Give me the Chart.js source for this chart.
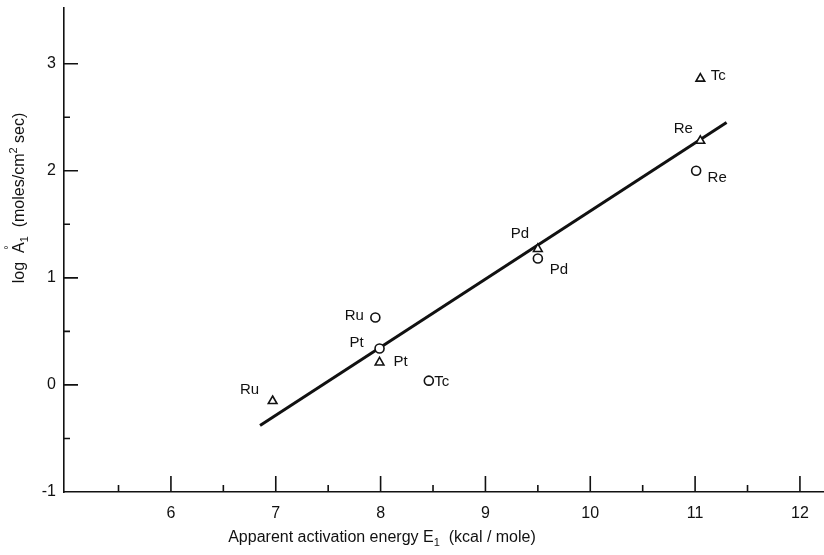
<!DOCTYPE html>
<html>
<head>
<meta charset="utf-8">
<script src="https://cdn.jsdelivr.net/npm/chart.js@4.4.0/dist/chart.umd.min.js"></script>
<style>
  html, body { margin:0; padding:0; background:#fff; }
  canvas { display:block; }
</style>
</head>
<body>
<canvas id="chart" width="824" height="555"></canvas>
<script>
// circles (o) and triangles (Δ), log A vs E
const circleMetals = ['Ru', 'Pt', 'Tc', 'Pd', 'Re'];
const circleE      = [7.95, 7.99, 8.46, 9.5, 11.01];
const circleLogA   = [0.63, 0.34, 0.04, 1.18, 2.0];

const triMetals = ['Ru', 'Pt', 'Pd', 'Re', 'Tc'];
const triE      = [6.97, 7.99, 9.5, 11.05, 11.05];
const triLogA   = [-0.15, 0.21, 1.27, 2.28, 2.86];

// fitted line end points
const fitE    = [6.85, 11.3];
const fitLogA = [-0.38, 2.45];

const xTicks = [6, 7, 8, 9, 10, 11, 12];
const yTicks = [-1, 0, 1, 2, 3];

// label offsets in px from each marker (placement only)
const circleLabelPos = [[-21, -2], [-23, -6], [13, 1], [21, 11], [21, 7]];
const triLabelPos    = [[-23, -11], [21, -1], [-18, -15], [-17, -12], [18, -3]];

const FONT = '"Liberation Sans", Arial, sans-serif';
const INK = '#111';

const toXY = (xs, ys) => xs.map((x, i) => ({ x, y: ys[i] }));

// inward tick marks, labels next to markers, axis titles
const decor = {
  id: 'decor',
  afterDatasetsDraw(chart){
    const { ctx, scales:{ x, y }, chartArea:a } = chart;
    ctx.save();
    ctx.strokeStyle = INK;
    ctx.lineWidth = 1.6;
    ctx.beginPath();
    for (let v = 5.5; v <= 12.01; v += 0.5){
      const px = x.getPixelForValue(v);
      const len = Number.isInteger(v) ? 16 : 7;
      ctx.moveTo(px, a.bottom); ctx.lineTo(px, a.bottom - len);
    }
    for (let v = -0.5; v <= 3.01; v += 0.5){
      const py = y.getPixelForValue(v);
      const len = Number.isInteger(v) ? 14 : 6;
      ctx.moveTo(a.left, py); ctx.lineTo(a.left + len, py);
    }
    ctx.stroke();

    // point labels
    ctx.fillStyle = INK;
    ctx.font = '15px ' + FONT;
    ctx.textAlign = 'center';
    ctx.textBaseline = 'middle';
    const put = (names, xs, ys, pos) => names.forEach((n, i) => {
      const px = x.getPixelForValue(xs[i]), py = y.getPixelForValue(ys[i]);
      ctx.fillText(n, px + pos[i][0], py + pos[i][1]);
    });
    put(circleMetals, circleE, circleLogA, circleLabelPos);
    put(triMetals, triE, triLogA, triLabelPos);

    // x title with subscript
    drawRich(ctx, [
      ['Apparent activation energy E', 0], ['1', 1], ['  (kcal / mole)', 0]
    ], 382, 538, 16);

    // y title, rotated
    ctx.save();
    ctx.translate(20, 198);
    ctx.rotate(-Math.PI / 2);
    drawRich(ctx, [
      ['log  A', 0], ['°', -1.4], ['1', 1], ['  (moles/cm', 0], ['2', -1], [' sec)', 0]
    ], 0, 0, 16);
    ctx.restore();
    ctx.restore();
  }
};

// parts: [text, shift] shift 0 normal, 1 sub, -1 sup, -1.4 degree over previous letter
function drawRich(ctx, parts, cx, cy, size){
  const small = Math.round(size * 0.7);
  const w = parts.map(([t, s]) => {
    if (s === -1.4) return 0;
    ctx.font = (s ? small : size) + 'px ' + FONT;
    return ctx.measureText(t).width;
  });
  const total = w.reduce((p, c) => p + c, 0);
  let px = cx - total / 2;
  ctx.textAlign = 'left';
  ctx.textBaseline = 'middle';
  let lastW = 0;
  parts.forEach(([t, s], i) => {
    if (s === -1.4){
      ctx.font = small + 'px ' + FONT;
      const dw = ctx.measureText(t).width;
      ctx.fillText(t, px - lastW / 2 - dw / 2, cy - size * 0.7);
      return;
    }
    ctx.font = (s ? small : size) + 'px ' + FONT;
    const dy = s === 1 ? size * 0.32 : s === -1 ? -size * 0.38 : 0;
    ctx.fillText(t, px, cy + dy);
    px += w[i];
    lastW = w[i];
    if (s === 0 && t.endsWith('A')){ ctx.font = size + 'px ' + FONT; lastW = ctx.measureText('A').width; }
  });
}

new Chart(document.getElementById('chart'), {
  type: 'scatter',
  data: {
    datasets: [
      {
        label: 'circles',
        data: toXY(circleE, circleLogA),
        pointStyle: 'circle',
        pointRadius: 4.5,
        pointBorderWidth: 1.6,
        pointBorderColor: INK,
        pointBackgroundColor: '#fff',
        order: 1
      },
      {
        label: 'triangles',
        data: toXY(triE, triLogA),
        pointStyle: 'triangle',
        pointRadius: 5,
        pointBorderWidth: 1.6,
        pointBorderColor: INK,
        pointBackgroundColor: '#fff',
        order: 1
      },
      {
        label: 'fit',
        type: 'line',
        data: toXY(fitE, fitLogA),
        borderColor: INK,
        borderWidth: 3,
        pointRadius: 0,
        fill: false,
        order: 2
      }
    ]
  },
  options: {
    responsive: false,
    animation: false,
    layout: { autoPadding: false, padding: { top: 8, right: 1, left: 0, bottom: 0 } },
    plugins: { legend: { display: false }, tooltip: { enabled: false } },
    scales: {
      x: {
        type: 'linear',
        min: 4.98, max: 12.22,
        afterBuildTicks: s => { s.ticks = xTicks.map(v => ({ value: v })); },
        afterFit: s => { s.height = 63; s.paddingLeft = 0; s.paddingRight = 0; },
        grid: { display: false, drawTicks: false },
        border: { display: true, color: INK, width: 1.6 },
        ticks: { color: INK, font: { family: FONT, size: 16 }, padding: 12, maxRotation: 0 }
      },
      y: {
        type: 'linear',
        min: -1, max: 3.52,
        afterBuildTicks: s => { s.ticks = yTicks.map(v => ({ value: v })); },
        afterFit: s => { s.width = 64; s.paddingTop = 0; s.paddingBottom = 0; },
        grid: { display: false, drawTicks: false },
        border: { display: true, color: INK, width: 1.6 },
        ticks: { color: INK, font: { family: FONT, size: 16 }, padding: 8 }
      }
    }
  },
  plugins: [decor]
});
</script>
</body>
</html>
